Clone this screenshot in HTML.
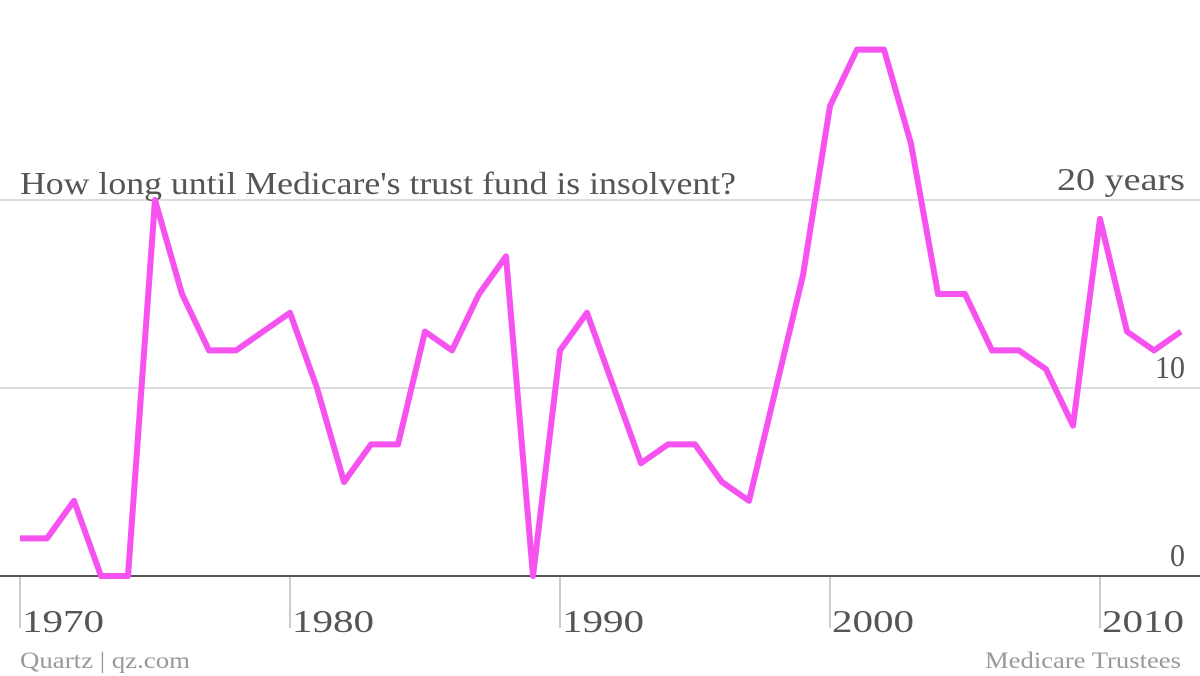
<!DOCTYPE html>
<html><head><meta charset="utf-8"><style>
html,body{margin:0;padding:0;background:#fff;}
svg{display:block;font-family:"Liberation Serif",serif;}
</style></head><body>
<svg id="chart" width="1200" height="676" viewBox="0 0 1200 676">
<g id="grid"></g>
<g id="xaxis"></g>
<text x="20" y="194" font-size="32" fill="#555" textLength="716" lengthAdjust="spacingAndGlyphs">How long until Medicare's trust fund is insolvent?</text>
<path id="line" fill="none" stroke="#f652f0" stroke-width="6" stroke-linejoin="round"></path>
<text x="20" y="668" font-size="23" fill="#999" textLength="170" lengthAdjust="spacingAndGlyphs">Quartz | qz.com</text>
<text x="985" y="668" font-size="23" fill="#999" textLength="196" lengthAdjust="spacingAndGlyphs">Medicare Trustees</text>
</svg>
<script>
const years = [1970,1971,1972,1973,1974,1975,1976,1977,1978,1979,1980,1981,1982,1983,1984,1985,1986,1987,1988,1989,1990,1991,1992,1993,1994,1995,1996,1997,1998,1999,2000,2001,2002,2003,2004,2005,2006,2007,2008,2009,2010,2011,2012,2013];
const yearsLeft = [2,2,4,0,0,20,15,12,12,13,14,10,5,7,7,13,12,15,17,0,12,14,10,6,7,7,5,4,10,16,25,28,28,23,15,15,12,12,11,8,19,13,12,13];
const yTicks = [0,10,20];
const yTickLabels = ["0","10","20 years"];
const xTicks = [1970,1980,1990,2000,2010];

const x = v => 20 + (v-1970)*27;
const y = v => 576 - v*18.8;
const NS = "http://www.w3.org/2000/svg";
const grid = document.getElementById("grid");
yTicks.forEach((t,i)=>{
  const l = document.createElementNS(NS,"line");
  
  
  l.setAttribute("x1",0); l.setAttribute("x2",1200);
  l.setAttribute("y1",y(t)); l.setAttribute("y2",y(t));
  l.setAttribute("stroke", t===0 ? "#555" : "#ddd");
  l.setAttribute("stroke-width", 2);
  grid.appendChild(l);
  const tx = document.createElementNS(NS,"text");
  
  
  tx.setAttribute("x",1185); tx.setAttribute("y",y(t)-10);
  tx.setAttribute("text-anchor","end"); tx.setAttribute("font-size","32"); tx.setAttribute("fill","#555");
  tx.setAttribute("textLength", String(yTickLabels[i].length*15 + (yTickLabels[i].length>2?8:0)));
  tx.setAttribute("lengthAdjust","spacingAndGlyphs");
  tx.textContent = yTickLabels[i];
  grid.appendChild(tx);
});
const xa = document.getElementById("xaxis");
xTicks.forEach(t=>{
  const l = document.createElementNS(NS,"line");
  
  
  l.setAttribute("x1",x(t)); l.setAttribute("x2",x(t));
  l.setAttribute("y1",577); l.setAttribute("y2",628);
  l.setAttribute("stroke","#ccc"); l.setAttribute("stroke-width",2);
  xa.appendChild(l);
  const tx = document.createElementNS(NS,"text");
  
  
  tx.setAttribute("x",x(t)+2); tx.setAttribute("y",632);
  tx.setAttribute("font-size","32"); tx.setAttribute("fill","#555");
  tx.setAttribute("textLength","82");
  tx.setAttribute("lengthAdjust","spacingAndGlyphs");
  tx.textContent = t;
  xa.appendChild(tx);
});
document.getElementById("line").setAttribute("d",
  years.map((yr,i)=>(i?"L":"M")+x(yr)+","+y(yearsLeft[i])).join(" "));
</script>
</body></html>
